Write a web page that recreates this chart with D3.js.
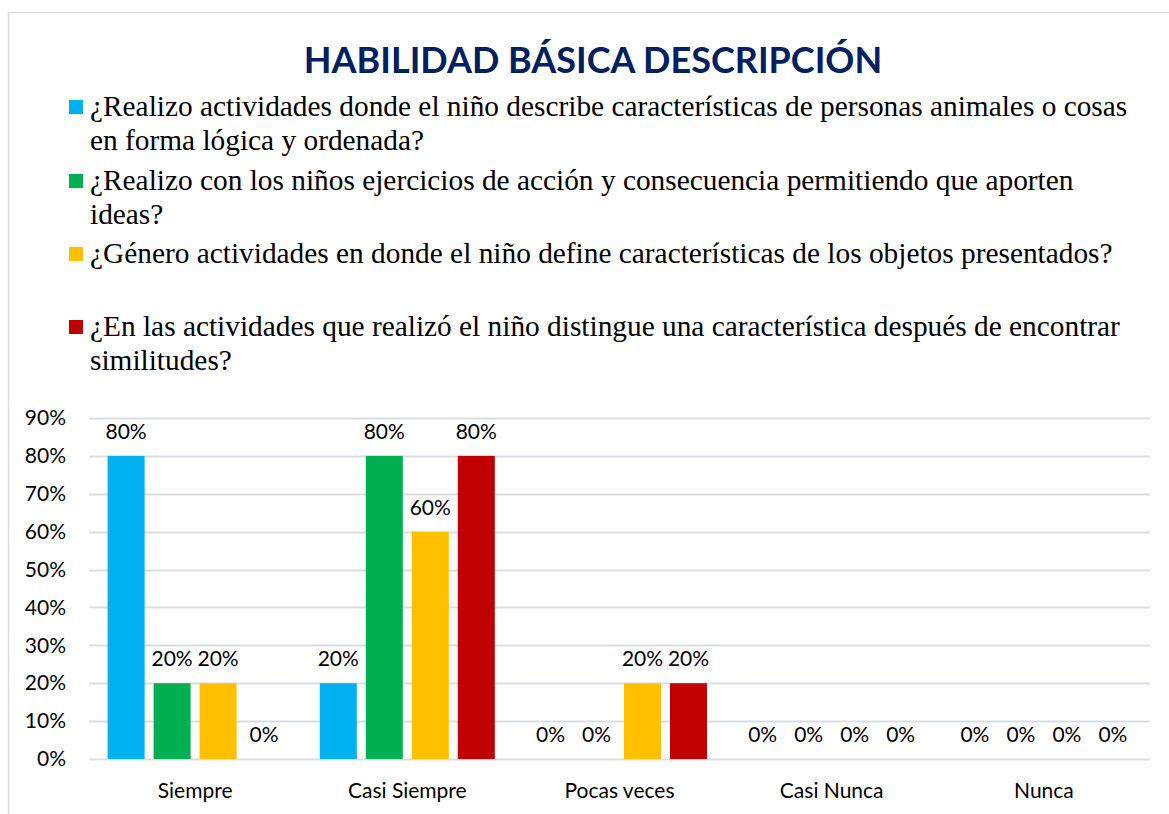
<!DOCTYPE html>
<html><head><meta charset="utf-8">
<script src="https://cdn.jsdelivr.net/npm/d3@7"></script>
<style>body{margin:0;background:#fff}svg{display:block}</style>
</head><body>
<svg id="c" width="1169" height="814"></svg>
<script>
const title = "HABILIDAD BÁSICA DESCRIPCIÓN";
const categories = ["Siempre","Casi Siempre","Pocas veces","Casi Nunca","Nunca"];
const seriesNames = [
  ["¿Realizo actividades donde el niño describe características de personas animales o cosas","en forma lógica y ordenada?"],
  ["¿Realizo con los niños ejercicios de acción y consecuencia permitiendo que aporten","ideas?"],
  ["¿Género actividades en donde el niño define características de los objetos presentados?"],
  ["¿En las actividades que realizó el niño distingue una característica después de encontrar","similitudes?"]
];
const seriesColors = ["#00B0F0","#00B050","#FFC000","#C00000"];
const s1 = [0.8,0.2,0,0,0];
const s2 = [0.2,0.8,0,0,0];
const s3 = [0.2,0.6,0.2,0,0];
const s4 = [0,0.8,0.2,0,0];
const seriesValues = [s1,s2,s3,s4];
const yTicks = [0,0.1,0.2,0.3,0.4,0.5,0.6,0.7,0.8,0.9];

(function(){
const svg = d3.select("#c");
const sans = "Lato, 'Open Sans', sans-serif";
const fs = 21;
svg.append("path").attr("d","M8.5,814 L8.5,12.5 L1169,12.5").attr("fill","none").attr("stroke","#D9DDE3").attr("stroke-width",1.5);

svg.append("text").attr("x",593).attr("y",73).attr("text-anchor","middle")
  .attr("font-family",sans).attr("font-weight","bold")
  .attr("font-size",36).attr("fill","#002060").text(title);

const legBase = [116,190,263,336];
seriesNames.forEach((lines,i)=>{
  const g = svg.append("g");
  g.append("rect").attr("x",69).attr("y",legBase[i]-16).attr("width",14).attr("height",14).attr("fill",seriesColors[i]);
  lines.forEach((t,j)=>{
    g.append("text").attr("x",90).attr("y",legBase[i]+j*34)
      .attr("font-family","'Liberation Serif','Times New Roman',serif").attr("font-size",29.35)
      .attr("fill","#000").text(t);
  });
});

const pL = 89, pR = 1150, pT = 418, pB = 759;
const y = d3.scaleLinear().domain([0,0.9]).range([pB, pT]);
const x0 = d3.scaleBand().domain(categories).range([pL,pR]).padding(0);
const grp = 175, off = (x0.bandwidth()-grp)/2;
const x1 = d3.scaleBand().domain(d3.range(4)).range([off, off+grp]).paddingInner(9/46).paddingOuter(0);

svg.append("g").selectAll("line").data(yTicks).join("line")
  .attr("x1",pL).attr("x2",pR).attr("y1",d=>Math.round(y(d))+0.5).attr("y2",d=>Math.round(y(d))+0.5)
  .attr("stroke","#D9DDE3").attr("stroke-width",2);

const yAxis = d3.axisLeft(y).tickValues(yTicks).tickFormat(d3.format(".0%")).tickSize(0).tickPadding(0);
const ya = svg.append("g").attr("transform",`translate(66,0)`).call(yAxis);
ya.select(".domain").remove();
ya.selectAll("text").attr("font-family",sans).attr("font-size",fs).attr("fill","#000");

const data = [];
categories.forEach((c,ci)=>seriesValues.forEach((s,si)=>data.push({c,si,v:s[ci]})));
svg.append("g").selectAll("rect").data(data.filter(d=>d.v>0)).join("rect")
  .attr("x",d=>x0(d.c)+x1(d.si)).attr("width",x1.bandwidth())
  .attr("y",d=>y(d.v)).attr("height",d=>y(0)-y(d.v)).attr("fill",d=>seriesColors[d.si]);

svg.append("g").selectAll("text").data(data).join("text")
  .attr("x",d=>x0(d.c)+x1(d.si)+x1.bandwidth()/2).attr("y",d=>y(d.v)-17)
  .attr("text-anchor","middle").attr("font-family",sans).attr("font-size",fs)
  .attr("fill","#000").text(d=>d3.format(".0%")(d.v));

const xAxis = d3.axisBottom(x0).tickSize(0).tickPadding(0);
const xa = svg.append("g").attr("transform",`translate(0,${pB+24})`).call(xAxis);
xa.select(".domain").remove();
xa.selectAll("text").attr("font-family",sans).attr("font-size",fs).attr("fill","#000");
})();
</script>
</body></html>
